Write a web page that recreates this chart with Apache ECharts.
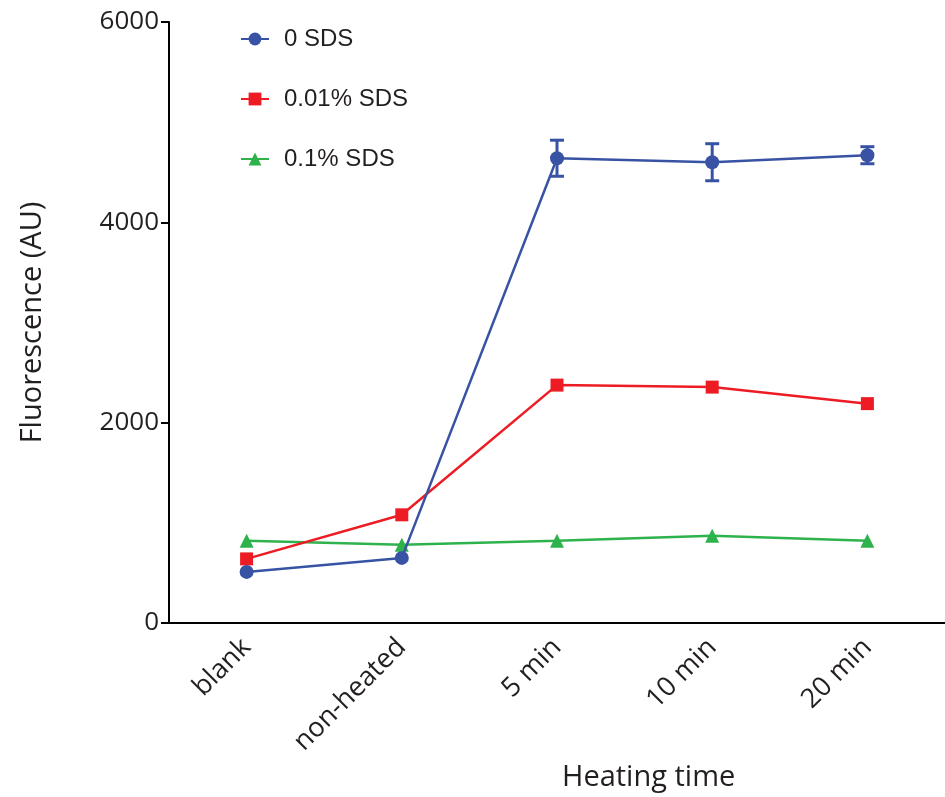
<!DOCTYPE html>
<html>
<head>
<meta charset="utf-8">
<script src="https://cdn.jsdelivr.net/npm/echarts@6/dist/echarts.min.js"></script>
<style>html,body{margin:0;padding:0;background:#fff}#chart{width:945px;height:797px}</style>
</head>
<body>
<div id="chart"></div>
<script>
// Heating-time categories and tick values
const categories = ['blank', 'non-heated', '5 min', '10 min', '20 min'];
const yTicks = [0, 2000, 4000, 6000];

// Mean fluorescence per SDS concentration
const sds0 = [510, 650, 4640, 4600, 4670];
const sds001 = [640, 1080, 2375, 2355, 2190];
const sds01 = [820, 780, 820, 870, 820];

// Error (±) for the 0 SDS series
const sds0Err = [0, 0, 180, 185, 85];

const BLUE = '#3953a4', RED = '#ed1c24', GREEN = '#2eb24b';
const axisFont = 'Open Sans, Noto Sans, sans-serif';

const chart = echarts.init(document.getElementById('chart'));

function errorRender(params, api) {
  const i = api.value(0);
  const lo = api.coord([i, api.value(1)]);
  const hi = api.coord([i, api.value(2)]);
  const w = 7;
  const style = { stroke: BLUE, lineWidth: 3, fill: null };
  return {
    type: 'group',
    children: [
      { type: 'line', shape: { x1: hi[0], y1: hi[1], x2: lo[0], y2: lo[1] }, style },
      { type: 'line', shape: { x1: hi[0] - w, y1: hi[1], x2: hi[0] + w, y2: hi[1] }, style },
      { type: 'line', shape: { x1: lo[0] - w, y1: lo[1], x2: lo[0] + w, y2: lo[1] }, style }
    ]
  };
}

const errData = sds0.map((v, i) => [i, v - sds0Err[i], v + sds0Err[i]]).filter((d, i) => sds0Err[i] > 0);

chart.setOption({
  animation: false,
  backgroundColor: '#fff',
  title: {
    text: 'Heating time',
    left: 557, top: 758,
    textStyle: { fontFamily: axisFont, fontSize: 29, fontWeight: 'normal', color: '#231f20' }
  },
  legend: {
    orient: 'vertical',
    left: 240, top: 27,
    padding: 0,
    itemGap: 36,
    itemWidth: 28, itemHeight: 16,
    textStyle: { fontFamily: 'Liberation Sans, Arial, sans-serif', fontSize: 24, color: '#231f20', padding: [0, 0, 0, 10] },
    data: ['0 SDS', '0.01% SDS', '0.1% SDS']
  },
  grid: { left: 169, right: 0, top: 22, bottom: 174, containLabel: false },
  xAxis: {
    type: 'category',
    data: categories,
    boundaryGap: true,
    axisLine: { lineStyle: { color: '#000', width: 2 } },
    axisTick: { alignWithLabel: true, length: 8, lineStyle: { width: 2, color: '#000' } },
    axisLabel: { rotate: 45, fontFamily: axisFont, fontSize: 27, color: '#231f20', margin: 20, interval: 0 }
  },
  yAxis: {
    type: 'value',
    min: yTicks[0], max: yTicks[yTicks.length - 1], interval: 2000,
    name: 'Fluorescence (AU)',
    nameLocation: 'middle',
    nameGap: 122,
    nameTextStyle: { fontFamily: axisFont, fontSize: 29, color: '#231f20' },
    axisLine: { show: true, lineStyle: { color: '#000', width: 2 } },
    axisTick: { show: true, length: 8, lineStyle: { width: 2, color: '#000' } },
    splitLine: { show: false },
    axisLabel: { fontFamily: axisFont, fontSize: 26, color: '#231f20', margin: 10, formatter: v => String(v) }
  },
  series: [
    {
      name: '0 SDS', type: 'line', data: sds0,
      symbol: 'circle', symbolSize: 14,
      lineStyle: { color: BLUE, width: 2.5 }, itemStyle: { color: BLUE }, z: 3
    },
    {
      name: '0.01% SDS', type: 'line', data: sds001,
      symbol: 'rect', symbolSize: 13,
      lineStyle: { color: RED, width: 2.5 }, itemStyle: { color: RED }, z: 2
    },
    {
      name: '0.1% SDS', type: 'line', data: sds01,
      symbol: 'triangle', symbolSize: 14,
      lineStyle: { color: GREEN, width: 2.5 }, itemStyle: { color: GREEN }, z: 1
    },
    {
      name: 'err', type: 'custom', renderItem: errorRender,
      data: errData, z: 4, silent: true
    }
  ]
});
</script>
</body>
</html>
